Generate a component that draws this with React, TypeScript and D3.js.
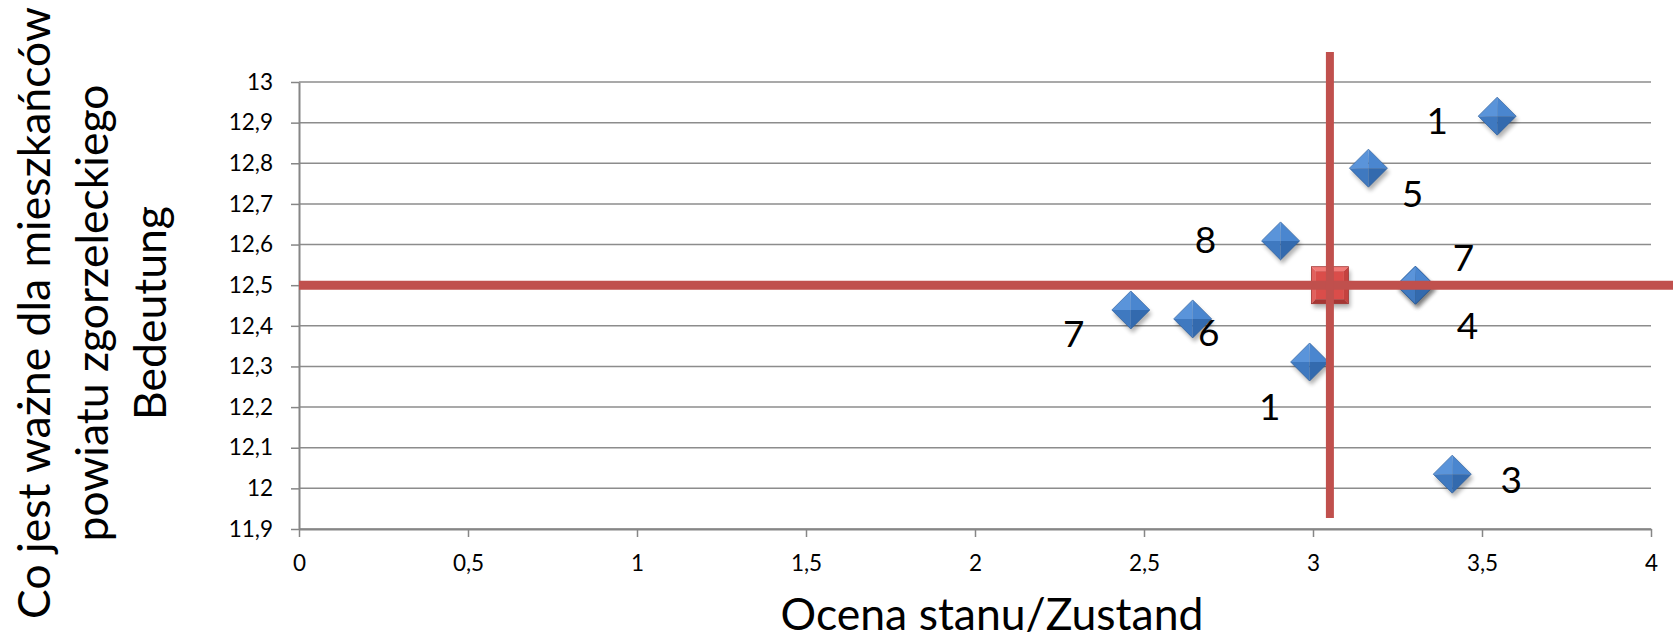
import { useEffect, useRef } from 'react';
import * as d3 from 'd3';

// osie
const xTicks = [0, 0.5, 1, 1.5, 2, 2.5, 3, 3.5, 4];
const xTickLabels = ['0', '0,5', '1', '1,5', '2', '2,5', '3', '3,5', '4'];
const yTicks = [11.9, 12, 12.1, 12.2, 12.3, 12.4, 12.5, 12.6, 12.7, 12.8, 12.9, 13];
const yTickLabels = ['11,9', '12', '12,1', '12,2', '12,3', '12,4', '12,5', '12,6', '12,7', '12,8', '12,9', '13'];

// punkty: ocena stanu (x) / bedeutung (y)
const pointLabels = ['1', '5', '8', '7', '4', '7', '6', '1', '3'];
const ocena = [3.545, 3.164, 2.904, 3.303, 3.303, 2.461, 2.644, 2.99, 3.412];
const bedeutung = [12.916, 12.788, 12.609, 12.5, 12.5, 12.439, 12.417, 12.311, 12.035];

// srednia + linie podzialu
const meanPoint = [3.05, 12.5];
const hLine = [[0, 12.5], [4.07, 12.5]];
const vLine = [[3.05, 11.927], [3.05, 13.074]];

// przesuniecia etykiet w px (uklad, nie dane)
const labelDx = [-60, 44, -75, 48, 52, -57, 16, -40, 59];
const labelDy = [3, 24, -2, -29, 39, 23, 13, 44, 4];

const yTitle = ['Co jest ważne dla mieszkańców', 'powiatu zgorzeleckiego', 'Bedeutung'];
const xTitle = 'Ocena stanu/Zustand';

const FONT = 'Lato, "Open Sans", sans-serif';

const App = () => {
  const svgRef = useRef<SVGSVGElement>(null);

  useEffect(() => {
    const W = 1673;
    const H = 640;
    const left = 299, right = 1651, top = 82, bottom = 529;

    const svg = d3.select(svgRef.current);
    svg.selectAll('*').remove();
    svg.attr('width', W).attr('height', H);

    const defs = svg.append('defs');
    defs.append('filter').attr('id', 'shadow')
      .attr('x', '-50%').attr('y', '-50%').attr('width', '200%').attr('height', '200%')
      .append('feGaussianBlur').attr('stdDeviation', 2);

    const x = d3.scaleLinear().domain([0, 4]).range([left, right]);
    const y = d3.scaleLinear().domain([11.9, 13]).range([bottom, top]);

    // siatka
    svg.append('g')
      .selectAll('line')
      .data(yTicks)
      .join('line')
      .attr('x1', left).attr('x2', right)
      .attr('y1', d => y(d)).attr('y2', d => y(d))
      .attr('stroke', '#8c8c8c')
      .attr('stroke-width', 1.5);

    // Os Y
    const gy = svg.append('g')
      .attr('transform', `translate(${left},0)`)
      .call(d3.axisLeft(y).tickValues(yTicks).tickSize(8).tickSizeOuter(0).tickPadding(18)
        .tickFormat((_, i) => yTickLabels[i]));

    // Os X
    const gx = svg.append('g')
      .attr('transform', `translate(0,${bottom})`)
      .call(d3.axisBottom(x).tickValues(xTicks).tickSize(8).tickSizeOuter(0).tickPadding(18)
        .tickFormat((_, i) => xTickLabels[i]));

    [gx, gy].forEach(g => {
      g.select('.domain').attr('stroke', '#868686').attr('stroke-width', 2);
      g.selectAll('.tick line').attr('stroke', '#868686').attr('stroke-width', 1.5);
      g.selectAll('.tick text')
        .attr('fill', '#000')
        .style('font-family', FONT)
        .style('font-size', '22.5px');
    });

    const data = ocena.map((v, i) => ({ x: v, y: bedeutung[i], label: pointLabels[i], i }));

    // romby
    const r = 19;
    const pts = svg.append('g')
      .selectAll('g')
      .data(data)
      .join('g')
      .attr('transform', d => `translate(${x(d.x)},${y(d.y)})`);

    pts.append('path')
      .attr('d', `M0,${-r}L${r},0L0,${r}L${-r},0Z`)
      .attr('transform', 'translate(2,4)')
      .attr('fill', '#000')
      .attr('opacity', 0.3)
      .attr('filter', 'url(#shadow)');

    const facets: [string, string][] = [
      [`M0,${-r}L${-r},0L0,0Z`, '#5a94da'],
      [`M0,${-r}L${r},0L0,0Z`, '#4a86cf'],
      [`M${-r},0L0,${r}L0,0Z`, '#3f79c0'],
      [`M${r},0L0,${r}L0,0Z`, '#336aae'],
    ];
    facets.forEach(([d, c]) => {
      pts.append('path').attr('d', d).attr('fill', c);
    });
    pts.append('path')
      .attr('d', `M0,${-r}L${r},0L0,${r}L${-r},0Z`)
      .attr('fill', 'none')
      .attr('stroke', '#2d5f9e')
      .attr('stroke-width', 0.7);

    // kwadrat sredniej
    const s = 18.5;
    const b = 4.5;
    const mg = svg.append('g')
      .attr('transform', `translate(${x(meanPoint[0])},${y(meanPoint[1])})`);
    mg.append('rect')
      .attr('x', -s + 2).attr('y', -s + 4).attr('width', 2 * s).attr('height', 2 * s)
      .attr('fill', '#000').attr('opacity', 0.3).attr('filter', 'url(#shadow)');
    const sq: [string, string][] = [
      [`M${-s},${-s}L${s},${-s}L${s - b},${-s + b}L${-s + b},${-s + b}Z`, '#f27a77'],
      [`M${-s},${-s}L${-s + b},${-s + b}L${-s + b},${s - b}L${-s},${s}Z`, '#e2605d'],
      [`M${s},${-s}L${s},${s}L${s - b},${s - b}L${s - b},${-s + b}Z`, '#c4423f'],
      [`M${-s},${s}L${-s + b},${s - b}L${s - b},${s - b}L${s},${s}Z`, '#a63634'],
    ];
    sq.forEach(([d, c]) => mg.append('path').attr('d', d).attr('fill', c));
    mg.append('rect')
      .attr('x', -s + b).attr('y', -s + b).attr('width', 2 * (s - b)).attr('height', 2 * (s - b))
      .attr('fill', '#da4d4a');
    mg.append('rect')
      .attr('x', -s).attr('y', -s).attr('width', 2 * s).attr('height', 2 * s)
      .attr('fill', 'none').attr('stroke', '#a13533').attr('stroke-width', 0.8);

    // linie podzialu
    const line = d3.line<number[]>().x(d => x(d[0])).y(d => y(d[1]));
    svg.append('path').datum(hLine)
      .attr('d', line).attr('stroke', '#c0504d').attr('stroke-width', 9).attr('fill', 'none');
    svg.append('path').datum(vLine)
      .attr('d', line).attr('stroke', '#c0504d').attr('stroke-width', 8).attr('fill', 'none');

    // etykiety punktow
    svg.append('g')
      .selectAll('text')
      .data(data)
      .join('text')
      .attr('x', d => x(d.x) + labelDx[d.i])
      .attr('y', d => y(d.y) + labelDy[d.i])
      .attr('text-anchor', 'middle')
      .attr('dominant-baseline', 'central')
      .style('font-family', FONT)
      .style('font-size', '37px')
      .attr('fill', '#000')
      .text(d => d.label);

    // tytul osi X
    svg.append('text')
      .attr('x', 992)
      .attr('y', 630)
      .attr('text-anchor', 'middle')
      .style('font-family', FONT)
      .style('font-size', '44.5px')
      .attr('fill', '#000')
      .text(xTitle);

    // tytul osi Y
    const yt = svg.append('text')
      .attr('transform', 'translate(0,313) rotate(-90)')
      .attr('text-anchor', 'middle')
      .style('font-family', FONT)
      .style('font-size', '44.5px')
      .attr('fill', '#000');
    yTitle.forEach((t, i) => {
      yt.append('tspan').attr('x', 0).attr('y', 50 + i * 58).text(t);
    });
  }, []);

  return <svg ref={svgRef} style={{ position: 'absolute', left: 0, top: 0, background: '#fff' }}></svg>;
};

export default App;
